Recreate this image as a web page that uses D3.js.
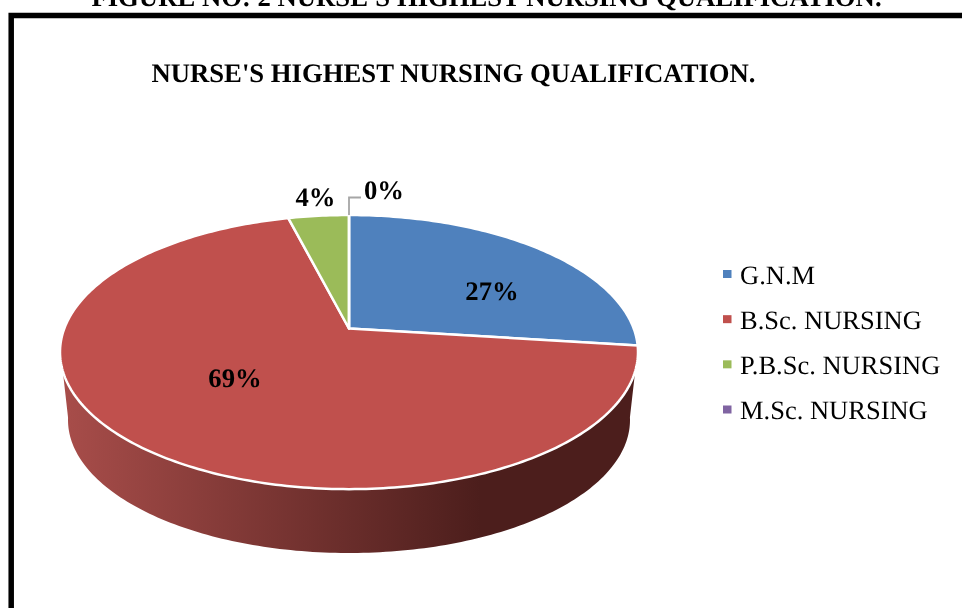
<!DOCTYPE html>
<html>
<head>
<meta charset="utf-8">
<style>
    html, body { margin: 0; padding: 0; background: #fff; overflow: hidden; }
    svg { display: block; filter: blur(0.4px); }
    text { font-family: "Liberation Serif", serif; fill: #000; text-rendering: geometricPrecision; }
</style>
</head>
<body>
<svg width="962" height="608"></svg>
<script src="https://d3js.org/d3.v7.min.js"></script>
<script>
// values
var categories = ["G.N.M", "B.Sc. NURSING", "P.B.Sc. NURSING", "M.Sc. NURSING"];
var values = [27, 69, 4, 0];
var colors = ["#4f81bd", "#c0504d", "#9bbb59", "#8064a2"];
var figureTitle = "FIGURE NO: 2 NURSE'S HIGHEST NURSING QUALIFICATION.";
var chartTitle = "NURSE'S HIGHEST NURSING QUALIFICATION.";

var svg = d3.select("svg");
var color = d3.scaleOrdinal().domain(categories).range(colors);

// the pie is tilted in perspective, so its centre sits above the middle of the ellipse
var cx = 349, apexY = 328.5, rimX = 284.7, rimY = 133, tilt = 0.172;

function project(angle, r) {
    var u = r * Math.sin(angle), v = -r * Math.cos(angle), w = 1 - tilt * v;
    return [cx + rimX * u / w, apexY + rimY * v / w];
}

function arcPoints(a0, a1) {
    var n = Math.max(2, Math.ceil((a1 - a0) * 60));
    return d3.range(n + 1).map(function(i) { return project(a0 + (a1 - a0) * i / n, 1); });
}

var line = d3.line();

// figure caption, cut by the top of the page
svg.append("text")
    .attr("x", 486.5).attr("y", 5.5)
    .attr("text-anchor", "middle")
    .attr("font-weight", "bold").attr("font-size", 26.7)
    .text(figureTitle);

// frame
svg.append("path")
    .attr("d", "M11.2,620V15.5H975")
    .attr("fill", "none").attr("stroke", "#000").attr("stroke-width", 5.5);

svg.append("text")
    .attr("x", 453.5).attr("y", 82)
    .attr("text-anchor", "middle")
    .attr("font-weight", "bold").attr("font-size", 26.7)
    .text(chartTitle);

var slices = d3.pie().sort(null)(values);

// side wall of the big slice
var grad = svg.append("defs").append("linearGradient")
    .attr("id", "wall")
    .attr("gradientUnits", "userSpaceOnUse")
    .attr("x1", 62).attr("x2", 480).attr("y1", 0).attr("y2", 0);
grad.append("stop").attr("offset", 0).attr("stop-color", "#a84d4a");
grad.append("stop").attr("offset", 1).attr("stop-color", "#4c1e1c");

var wallPts = arcPoints(slices[1].startAngle, slices[1].endAngle);
var rx2 = 281, ry2 = 133, cy2 = 420;
var bottom = d3.range(Math.PI / 2 - 0.02, 3 * Math.PI / 2 + 0.02, 0.02).map(function(a) {
    return [cx + rx2 * Math.sin(a), cy2 - ry2 * Math.cos(a)];
});
var visible = wallPts.filter(function(p) {
    return p[1] > 370;
});
svg.append("path")
    .attr("d", line(visible.concat(bottom.slice().reverse())) + "Z")
    .attr("fill", "url(#wall)");

// top of the pie
svg.selectAll("path.slice")
    .data(slices)
    .enter().append("path")
    .attr("class", "slice")
    .attr("fill", function(d, i) { return color(categories[i]); })
    .attr("stroke", "#fff")
    .attr("stroke-width", 2.5)
    .attr("stroke-linejoin", "round")
    .attr("d", function(d) {
        return line([[cx, apexY]].concat(arcPoints(d.startAngle, d.endAngle))) + "Z";
    });

// leader line of the 0% label
svg.append("path")
    .attr("d", "M349,215V197.5H361")
    .attr("fill", "none").attr("stroke", "#a6a6a6").attr("stroke-width", 1.8);

// slice labels, in slice order
var labelX = [492, 235, 315.5, 384];
var labelY = [300, 387, 206, 199];
svg.selectAll("text.pct")
    .data(values)
    .enter().append("text")
    .attr("class", "pct")
    .attr("x", function(d, i) { return labelX[i]; })
    .attr("y", function(d, i) { return labelY[i]; })
    .attr("text-anchor", "middle")
    .attr("font-weight", "bold").attr("font-size", 26.7)
    .text(function(d) { return d + "%"; });

// legend
var legendY = d3.scalePoint().domain(categories).range([274, 409.5]);
var legend = svg.selectAll("g.key")
    .data(categories)
    .enter().append("g")
    .attr("class", "key")
    .attr("transform", function(d) { return "translate(0," + legendY(d) + ")"; });
legend.append("rect")
    .attr("x", 723).attr("y", -4).attr("width", 8.5).attr("height", 8)
    .attr("fill", function(d) { return color(d); });
legend.append("text")
    .attr("x", 740).attr("y", 9.6)
    .attr("font-size", 26.5)
    .text(function(d) { return d; });
</script>
</body>
</html>
